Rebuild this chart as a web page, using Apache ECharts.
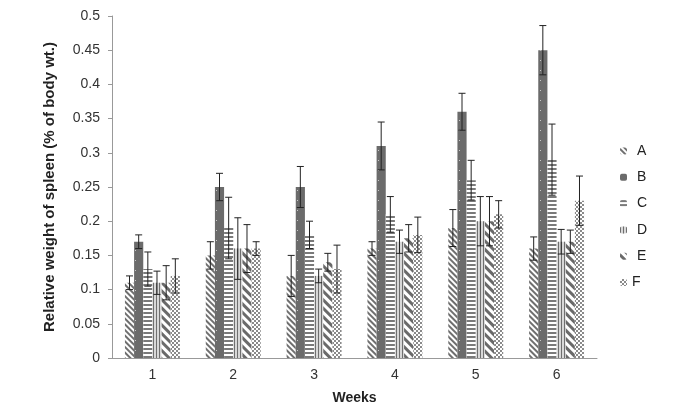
<!DOCTYPE html>
<html><head><meta charset="utf-8">
<script src="https://cdn.jsdelivr.net/npm/echarts@6/dist/echarts.min.js"></script>
<style>html,body{margin:0;padding:0;background:#fff}#c{width:685px;height:410px}</style>
</head><body><div id="c"></div>
<script>
const weeks = ['1','2','3','4','5','6'];
const names = ['A','B','C','D','E','F'];
const valA = [0.11, 0.15, 0.12, 0.16, 0.19, 0.16];
const valB = [0.17, 0.25, 0.25, 0.31, 0.36, 0.45];
const valC = [0.13, 0.19, 0.18, 0.21, 0.26, 0.29];
const valD = [0.11, 0.16, 0.12, 0.17, 0.20, 0.17];
const valE = [0.11, 0.16, 0.14, 0.175, 0.20, 0.17];
const valF = [0.12, 0.16, 0.13, 0.18, 0.21, 0.23];
const errA = [0.01, 0.02, 0.03, 0.01, 0.027, 0.017];
const errB = [0.01, 0.02, 0.03, 0.035, 0.027, 0.036];
const errC = [0.025, 0.045, 0.02, 0.026, 0.029, 0.052];
const errD = [0.017, 0.045, 0.01, 0.017, 0.036, 0.018];
const errE = [0.025, 0.035, 0.013, 0.02, 0.036, 0.017];
const errF = [0.025, 0.01, 0.035, 0.026, 0.02, 0.036];
const yTicks = [0, 0.05, 0.1, 0.15, 0.2, 0.25, 0.3, 0.35, 0.4, 0.45, 0.5];

const vals = [valA, valB, valC, valD, valE, valF];
const errs = [errA, errB, errC, errD, errE, errF];
const GAP = 0.32;

const styles = [
  {color:'#ffffff', decal:{symbol:'rect', symbolSize:1, dashArrayX:[1,0], dashArrayY:[2,2], rotation:Math.PI/4, color:'#6f6f6f'}},
  {color:'#6b6b6b', decal:{symbol:'rect', symbolSize:1, dashArrayX:[[1,8]], dashArrayY:[1,9], color:'#c8c8c8'}},
  {color:'#ffffff', decal:{symbol:'rect', symbolSize:1, dashArrayX:[1,0], dashArrayY:[2,1.3], color:'#7a7a7a'}},
  {color:'#d8d8d8', decal:{symbol:'rect', symbolSize:1, dashArrayX:[[1,2]], dashArrayY:[1,0], color:'#6f6f6f'}},
  {color:'#ffffff', decal:{symbol:'rect', symbolSize:1, dashArrayX:[1,0], dashArrayY:[3,3], rotation:Math.PI/4, color:'#6a6a6a'}},
  {color:'#ffffff', decal:{symbol:'rect', symbolSize:1, dashArrayX:[[2,2],[0,2,2,0]], dashArrayY:[2,0], color:'#8a8a8a'}}
];

const series = names.map((n, i) => ({
  name: n, type: 'bar', data: vals[i], barGap: '0%', barCategoryGap: (GAP*100)+'%',
  itemStyle: {color: styles[i].color, decal: styles[i].decal}
}));

const errData = [];
for (let s = 0; s < 6; s++) for (let c = 0; c < 6; c++)
  errData.push([c, s, vals[s][c] - errs[s][c], vals[s][c] + errs[s][c]]);

series.push({
  name: 'err', type: 'custom', data: errData, encode: {x: 0, y: [2, 3]}, z: 10,
  renderItem: function (params, api) {
    const c = api.value(0), s = api.value(1);
    const band = api.size([1, 0])[0];
    const gw = band * (1 - GAP), bw = gw / 6;
    const cx = api.coord([c, 0])[0] - gw / 2 + (s + 0.5) * bw;
    const lo = api.coord([c, api.value(2)])[1];
    const hi = api.coord([c, api.value(3)])[1];
    const hw = 3.5;
    const st = {stroke: '#222', lineWidth: 1};
    return {type: 'group', children: [
      {type: 'line', shape: {x1: cx, y1: lo, x2: cx, y2: hi}, style: st},
      {type: 'line', shape: {x1: cx - hw, y1: lo, x2: cx + hw, y2: lo}, style: st},
      {type: 'line', shape: {x1: cx - hw, y1: hi, x2: cx + hw, y2: hi}, style: st}
    ]};
  }
});

const legendData = names.map(n => ({name: n, textStyle: {padding: [0, 0, 0, n === 'F' ? 0 : 5]}}));

const chart = echarts.init(document.getElementById('c'));
chart.setOption({
  animation: false,
  textStyle: {fontFamily: 'Arial, "Liberation Sans", sans-serif'},
  grid: {left: 112, right: 88, top: 16, bottom: 51},
  legend: {
    data: legendData, orient: 'vertical', left: 615, top: 139, itemWidth: 7, itemHeight: 7, itemGap: 12.3,
    textStyle: {fontSize: 14, color: '#222'}
  },
  xAxis: {
    type: 'category', data: weeks, name: 'Weeks', nameLocation: 'middle', nameGap: 33,
    nameTextStyle: {fontSize: 14, fontWeight: 'bold', color: '#222'},
    axisLine: {lineStyle: {color: '#999'}}, axisTick: {show: false},
    axisLabel: {fontSize: 14, color: '#333', margin: 10}
  },
  yAxis: {
    type: 'value', min: 0, max: 0.5, interval: 0.05,
    name: 'Relative weight of spleen (% of body wt.)', nameLocation: 'middle', nameGap: 55,
    nameTextStyle: {fontSize: 15, fontWeight: 'bold', color: '#222'},
    axisLine: {show: true, lineStyle: {color: '#999'}},
    axisTick: {show: true, length: 4, lineStyle: {color: '#999'}},
    splitLine: {show: false},
    axisLabel: {fontSize: 14, color: '#333', margin: 12, formatter: v => String(+v.toFixed(2))}
  },
  series: series
});
</script></body></html>
